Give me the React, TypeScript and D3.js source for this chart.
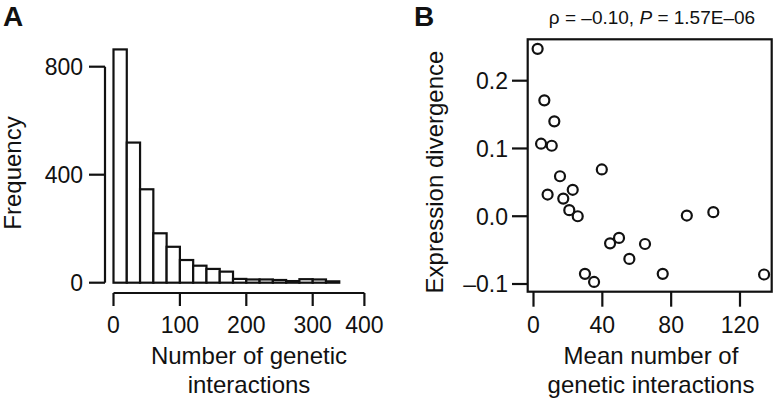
import React from "react";
import * as d3 from "d3";

// Panel A: histogram of genetic interactions (bins of 20)
const binStarts = [0, 20, 40, 60, 80, 100, 120, 140, 160, 180, 200, 220, 240, 260, 280, 300, 320];
const frequency = [864, 519, 346, 183, 133, 84, 63, 51, 41, 14, 12, 12, 10, 6, 13, 12, 5];
const binWidth = 20;
const histXTicks = [0, 100, 200, 300, 400];
const histYTicks = [0, 400, 800];

// Panel B: scatter
const meanInteractions = [2.4, 6.3, 12.1, 4.4, 10.6, 15.4, 8.2, 17.3, 22.8, 20.8, 25.7, 39.7, 29.9, 35.2, 44.5, 49.7, 55.7, 64.8, 75.1, 89.1, 104.5, 134];
const expressionDivergence = [0.247, 0.171, 0.14, 0.107, 0.104, 0.059, 0.032, 0.026, 0.039, 0.009, 0.0, 0.069, -0.085, -0.097, -0.04, -0.032, -0.063, -0.041, -0.085, 0.001, 0.006, -0.086];
const scatterXTicks = [0, 40, 80, 120];
const scatterYTicks = [-0.1, 0, 0.1, 0.2];

const font = "'Liberation Sans', Arial, Helvetica, sans-serif";
const fmtY = (v: number) => (v < 0 ? "–" + Math.abs(v).toFixed(1) : v.toFixed(1));

export default function App() {
  // histogram scales
  const xA = d3.scaleLinear().domain([0, 300]).range([113.5, 312.7]);
  // the original axis has its last tick (400) squeezed in
  const xAAxis = d3.scaleLinear().domain([0, 300, 400]).range([113.5, 312.7, 364.4]);
  const yA = d3.scaleLinear().domain([0, 800]).range([282.7, 66.7]);
  const axisAY = 293;

  // scatter scales
  const xB = d3.scaleLinear().domain([0, 120]).range([533.5, 740]);
  const yB = d3.scaleLinear().domain([-0.1, 0.2]).range([284, 80.7]);
  const box = { left: 527.7, right: 771.7, top: 39.3, bottom: 291.7 };

  const stroke = "#111";
  const sw = 2.2;

  return (
    <svg
      width={776}
      height={404}
      style={{ position: "absolute", left: 0, top: 0, background: "#fff" }}
      fontFamily={font}
    >
      {/* ---------- Panel A ---------- */}
      <text x={3} y={26} fontSize={28} fontWeight="bold" fill={stroke}>A</text>

      {binStarts.map((b, i) => (
        <rect
          key={b}
          x={xA(b)}
          y={yA(frequency[i])}
          width={xA(b + binWidth) - xA(b)}
          height={yA(0) - yA(frequency[i])}
          fill="#fff"
          stroke={stroke}
          strokeWidth={sw}
        />
      ))}

      {/* y axis */}
      <line x1={105} x2={105} y1={yA(0)} y2={yA(800)} stroke={stroke} strokeWidth={sw} />
      {histYTicks.map((t) => (
        <g key={t}>
          <line x1={89} x2={105} y1={yA(t)} y2={yA(t)} stroke={stroke} strokeWidth={sw} />
          <text x={83} y={yA(t)} dy="0.36em" textAnchor="end" fontSize={23} fill={stroke}>{t}</text>
        </g>
      ))}
      <text
        transform={`translate(21,173) rotate(-90)`}
        textAnchor="middle"
        fontSize={24}
        fill={stroke}
      >
        Frequency
      </text>

      {/* x axis */}
      <line x1={xAAxis(0)} x2={xAAxis(400)} y1={axisAY} y2={axisAY} stroke={stroke} strokeWidth={sw} />
      {histXTicks.map((t) => (
        <g key={t}>
          <line x1={xAAxis(t)} x2={xAAxis(t)} y1={axisAY} y2={axisAY + 13} stroke={stroke} strokeWidth={sw} />
          <text x={xAAxis(t)} y={333} textAnchor="middle" fontSize={23} fill={stroke}>{t}</text>
        </g>
      ))}
      <text x={249} y={364} textAnchor="middle" fontSize={24} fill={stroke}>Number of genetic</text>
      <text x={249} y={393} textAnchor="middle" fontSize={24} fill={stroke}>interactions</text>

      {/* ---------- Panel B ---------- */}
      <text x={414} y={26} fontSize={28} fontWeight="bold" fill={stroke}>B</text>
      <text x={652} y={24} textAnchor="middle" fontSize={19} fill={stroke}>
        ρ = –0.10, <tspan fontStyle="italic">P</tspan> = 1.57E–06
      </text>

      <rect
        x={box.left}
        y={box.top}
        width={box.right - box.left}
        height={box.bottom - box.top}
        fill="none"
        stroke={stroke}
        strokeWidth={sw}
      />
      {meanInteractions.map((m, i) => (
        <circle
          key={i}
          cx={xB(m)}
          cy={yB(expressionDivergence[i])}
          r={5}
          fill="none"
          stroke={stroke}
          strokeWidth={sw}
        />
      ))}

      {scatterYTicks.map((t) => (
        <g key={t}>
          <line x1={512} x2={box.left} y1={yB(t)} y2={yB(t)} stroke={stroke} strokeWidth={sw} />
          <text x={508} y={yB(t)} dy="0.36em" textAnchor="end" fontSize={23} fill={stroke}>{fmtY(t)}</text>
        </g>
      ))}
      <text
        transform={`translate(443,172) rotate(-90)`}
        textAnchor="middle"
        fontSize={24}
        fill={stroke}
      >
        Expression divergence
      </text>

      {scatterXTicks.map((t) => (
        <g key={t}>
          <line x1={xB(t)} x2={xB(t)} y1={box.bottom} y2={box.bottom + 15} stroke={stroke} strokeWidth={sw} />
          <text x={xB(t)} y={333} textAnchor="middle" fontSize={23} fill={stroke}>{t}</text>
        </g>
      ))}
      <text x={651} y={364} textAnchor="middle" fontSize={24} fill={stroke}>Mean number of</text>
      <text x={651} y={393} textAnchor="middle" fontSize={24} fill={stroke}>genetic interactions</text>
    </svg>
  );
}
